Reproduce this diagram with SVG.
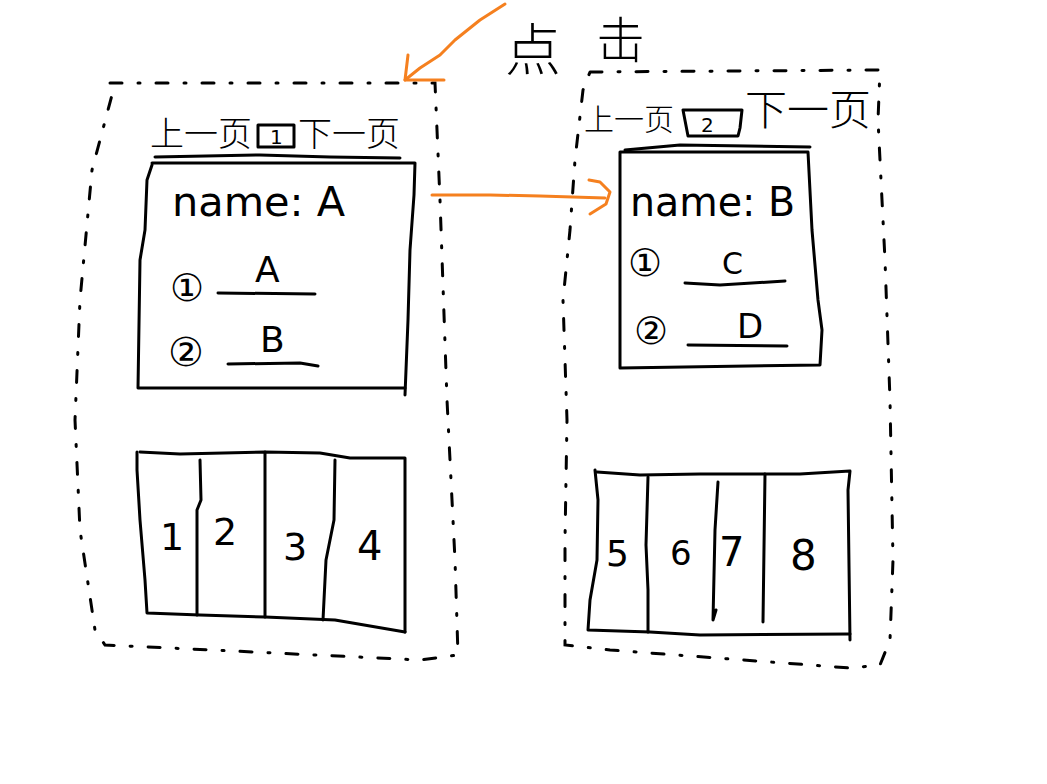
<svg xmlns="http://www.w3.org/2000/svg" width="1047" height="784" viewBox="0 0 1047 784">
<style>
.ln{fill:none;stroke:#000;stroke-width:3;stroke-linecap:round;stroke-linejoin:round}
.dash{fill:none;stroke:#000;stroke-width:3;stroke-linecap:round;stroke-dasharray:12 16 2 16}
.or{fill:none;stroke:#f5801f;stroke-width:3;stroke-linecap:round;stroke-linejoin:round}
.cj{font-family:"Noto Sans CJK SC","Noto Sans",sans-serif;font-weight:300;fill:#000}
.hw{font-family:"DejaVu Sans","Liberation Sans",sans-serif;font-weight:normal;fill:#000}
</style>
<rect width="1047" height="784" fill="#fff"/>

<g id="label-click">
<text class="cj" x="505" y="70" font-size="56">点</text>
<text class="cj" x="596" y="58" font-size="49">击</text>
</g>

<g id="page-1">
<path class="dash" d="M110,83 L435,83 L440,200 L447,400 L455,560 L458,655 L420,660 L170,648 L105,645 L95,630 L80,530 L75,420 L80,300 L92,170 L112,95 Z"/>
<g id="nav-1">
<text class="cj" x="150" y="146" font-size="34">上一页</text>
<rect class="ln" x="258" y="125" width="36" height="22"/>
<text class="hw" x="270" y="144" font-size="20">1</text>
<text class="cj" x="298" y="146" font-size="34">下一页</text>
<path class="ln" d="M155,157 L260,155 L330,157 L400,158"/>
</g>
<g id="card-1">
<path class="ln" d="M152,163 L415,163 L414,195 L410,250 L408,320 L405,395"/>
<path class="ln" d="M152,165 L147,180 L145,230 L140,260 L138,388 L405,388"/>
<text class="hw" x="172" y="216" font-size="40" textLength="173" lengthAdjust="spacingAndGlyphs">name: A</text>
<text class="hw" x="170" y="301" font-size="38">①</text>
<text class="hw" x="255" y="282" font-size="36">A</text>
<path class="ln" d="M218,293 L315,294"/>
<text class="hw" x="168" y="366" font-size="40">②</text>
<text class="hw" x="260" y="352" font-size="36">B</text>
<path class="ln" d="M228,364 L300,363 L318,366"/>
</g>
<g id="pager-1">
<path class="ln" d="M137,452 L137,470 L140,520 L145,580 L147,613 L200,615 L265,617 L335,620 L405,632"/>
<path class="ln" d="M140,452 L180,454 L265,452 L320,453 L350,458 L405,458 L405,632"/>
<path class="ln" d="M200,460 L201,500 L197,510 L197,615"/>
<path class="ln" d="M265,452 L265,617"/>
<path class="ln" d="M335,460 L334,520 L326,560 L323,620"/>
<text class="hw" x="160" y="550" font-size="38">1</text>
<text class="hw" x="213" y="545" font-size="38">2</text>
<text class="hw" x="283" y="560" font-size="38">3</text>
<text class="hw" x="357" y="560" font-size="40">4</text>
</g>
</g>

<g id="page-2">
<path class="dash" d="M590,72 L880,70 L878,120 L885,260 L890,400 L893,560 L890,640 L880,665 L850,668 L610,650 L565,645 L565,540 L567,420 L563,300 L570,230 L575,160 L583,90 Z"/>
<g id="nav-2">
<text class="cj" x="584" y="130" font-size="30">上一页</text>
<path class="ln" d="M683,110 L742,110 L740,128 L738,136 L688,136 L683,110"/>
<text class="hw" x="701" y="132" font-size="20">2</text>
<text class="cj" x="745" y="125" font-size="42">下一页</text>
<path class="ln" d="M625,150 L680,145 L810,147"/>
</g>
<g id="card-2">
<path class="ln" d="M620,152 L620,368 L820,365 L822,330 L818,300 L812,230 L808,152 Z"/>
<text class="hw" x="630" y="216" font-size="40" textLength="165" lengthAdjust="spacingAndGlyphs">name: B</text>
<text class="hw" x="628" y="276" font-size="38">①</text>
<text class="hw" x="722" y="274" font-size="30">C</text>
<path class="ln" d="M685,283 L720,285 L785,281"/>
<text class="hw" x="634" y="344" font-size="38">②</text>
<text class="hw" x="737" y="338" font-size="34">D</text>
<path class="ln" d="M688,345 L787,346"/>
</g>
<g id="pager-2">
<path class="ln" d="M595,470 L598,500 L597,560 L590,600 L588,630 L650,632 L700,635 L850,634"/>
<path class="ln" d="M597,472 L640,475 L700,474 L800,474 L850,471 L848,490 L850,640"/>
<path class="ln" d="M648,477 L646,545 L648,590 L648,632"/>
<path class="ln" d="M718,482 L715,530 L713,620 L716,610"/>
<path class="ln" d="M765,474 L763,622"/>
<text class="hw" x="606" y="566" font-size="36">5</text>
<text class="hw" x="670" y="565" font-size="34">6</text>
<text class="hw" x="719" y="566" font-size="40">7</text>
<text class="hw" x="790" y="570" font-size="42">8</text>
</g>
</g>

<g id="connectors">
<path class="or" d="M505,4 L480,20 L455,40 L440,55 L420,68 L405,80"/>
<path class="or" d="M408,55 L405,80 L444,80"/>
<path class="or" d="M432,195 L490,195 L540,196 L605,198"/>
<path class="or" d="M589,180 L600,182 L610,192 L606,204 L590,214"/>
</g>
</svg>
